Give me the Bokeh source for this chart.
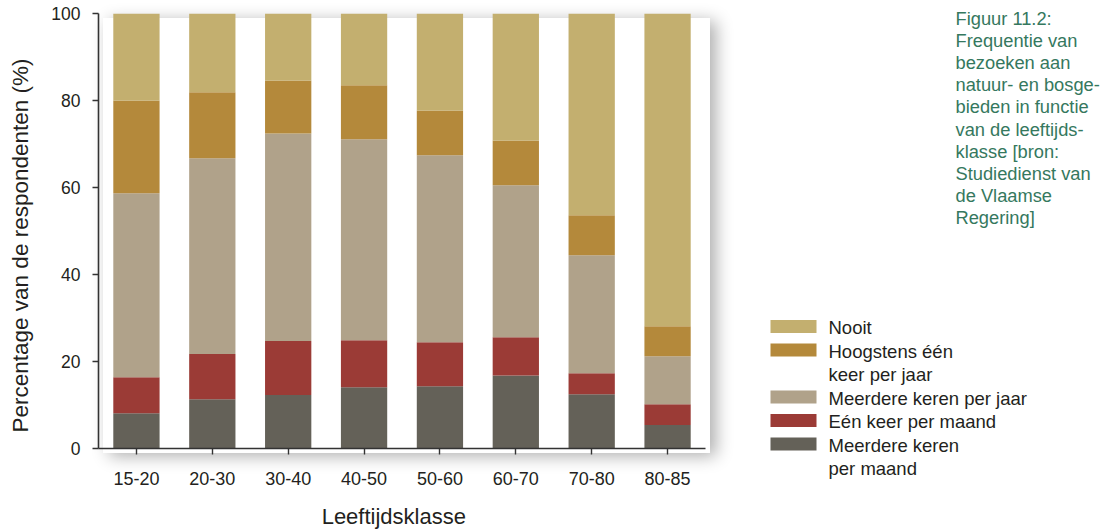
import math
from bokeh.plotting import figure
from bokeh.models import FactorRange, Range1d, FixedTicker, Div
from bokeh.core.properties import value
from bokeh.embed import file_html
from bokeh.resources import INLINE

# ---------------- data ----------------
categories = ["15-20", "20-30", "30-40", "40-50", "50-60", "60-70", "70-80", "80-85"]
meerdere_per_maand = [8.1, 11.3, 12.3, 14.1, 14.3, 16.8, 12.5, 5.4]
een_per_maand = [8.3, 10.4, 12.4, 10.8, 10.1, 8.8, 4.8, 4.8]
meerdere_per_jaar = [42.3, 45.0, 47.7, 46.2, 43.0, 34.9, 27.1, 11.0]
hoogstens_per_jaar = [21.3, 15.2, 12.2, 12.4, 10.3, 10.3, 9.2, 6.9]
nooit = [20.0, 18.1, 15.4, 16.5, 22.3, 29.2, 46.4, 71.9]

series_keys = ["mm", "em", "mj", "hj", "n"]
series_colors = ["#646158", "#9b3b36", "#b0a28a", "#b4893b", "#c3af6f"]
legend_lines = [
    ["Meerdere keren", "per maand"],
    ["Eén keer per maand"],
    ["Meerdere keren per jaar"],
    ["Hoogstens één", "keer per jaar"],
    ["Nooit"],
]
y_ticks = [0, 20, 40, 60, 80, 100]
y_label = "Percentage van de respondenten (%)"
x_label = "Leeftijdsklasse"
caption_lines = [
    "Figuur 11.2:",
    "Frequentie van",
    "bezoeken aan",
    "natuur- en bosge-",
    "bieden in functie",
    "van de leeftijds-",
    "klasse [bron:",
    "Studiedienst van",
    "de Vlaamse",
    "Regering]",
]

FONT = "Liberation Sans"
TXT = "#231f20"
AX = "#333333"

# ---------------- main chart ----------------
W_TOTAL, H = 1113, 531
W1 = 750
BL, BT, FRAME_R, FRAME_B = 98, 13, 705, 448
BR = W1 - FRAME_R
BB = H - FRAME_B
frame_w = FRAME_R - BL
frame_h = FRAME_B - BT

p = figure(
    width=W1, height=H,
    x_range=FactorRange(factors=categories, range_padding=0),
    y_range=Range1d(0, 100),
    toolbar_location=None, output_backend="svg",
    min_border_left=BL, min_border_right=BR, min_border_top=BT, min_border_bottom=BB,
    outline_line_color=None, background_fill_color=None, border_fill_color=None,
)

src = dict(cat=categories, mm=meerdere_per_maand, em=een_per_maand,
           mj=meerdere_per_jaar, hj=hoogstens_per_jaar, n=nooit)
p.vbar_stack(series_keys, x="cat", width=0.61, color=series_colors, source=src, line_width=0)

p.xgrid.visible = False
p.ygrid.visible = False

p.yaxis.ticker = FixedTicker(ticks=y_ticks)
p.yaxis.minor_tick_line_color = None
for ax in (p.xaxis[0], p.yaxis[0]):
    ax.axis_line_color = AX
    ax.axis_line_width = 1.6
    ax.major_tick_line_color = AX
    ax.major_tick_line_width = 1.4
    ax.major_tick_in = 0
    ax.major_tick_out = 6
    ax.major_label_text_font = FONT
    ax.major_label_text_color = TXT

p.yaxis.major_label_text_font_size = "17.5px"
p.yaxis.major_label_standoff = 12
p.xaxis.major_label_text_font_size = "18px"
p.xaxis.major_label_standoff = 17

# drop shadow behind the plotting area (a DOM element under the transparent canvas)
shadow = Div(text="", styles={
    "position": "absolute", "left": f"{BL}px", "top": f"{BT}px",
    "width": f"{frame_w}px", "height": f"{frame_h}px",
    "background-color": "white", "z-index": "-1", "pointer-events": "none",
    "box-shadow": "6px 3px 16px rgba(0,0,0,0.32)",
})

# ---------------- overlay: axis titles, legend, caption (page pixel coordinates) ----------------
r = figure(
    width=W_TOTAL, height=H,
    x_range=Range1d(0, W_TOTAL), y_range=Range1d(H, 0),
    toolbar_location=None, output_backend="svg",
    x_axis_type=None, y_axis_type=None, min_border=0,
    outline_line_color=None, background_fill_color=None, border_fill_color=None,
    styles={"position": "absolute", "left": "0px", "top": "0px", "pointer-events": "none"},
)
r.xgrid.visible = False
r.ygrid.visible = False

# axis titles
r.text(x=[19.5], y=[245], text=[y_label], angle=math.pi / 2,
       text_font=value(FONT), text_font_size="22.5px", text_color=TXT,
       text_align="center", text_baseline="middle")
r.text(x=[393.3], y=[515.6], text=[x_label],
       text_font=value(FONT), text_font_size="22px", text_color=TXT,
       text_align="center", text_baseline="middle")

# legend
line_y0 = 327.0
line_step = 23.5
sw_x, sw_w, sw_h = 793, 46, 13
txt_x = 828
sw_xs, sw_ys, sw_cols = [], [], []
tx, ty, tt = [], [], []
row_i = 0
for lines, col in zip(legend_lines[::-1], series_colors[::-1]):
    sw_xs.append(sw_x)
    sw_ys.append(line_y0 + row_i * line_step - 1)
    sw_cols.append(col)
    for ln in lines:
        tx.append(txt_x)
        ty.append(line_y0 + row_i * line_step)
        tt.append(ln)
        row_i += 1

r.rect(x=sw_xs, y=sw_ys, width=sw_w, height=sw_h, fill_color=sw_cols, line_alpha=0)
r.text(x=tx, y=ty, text=tt, text_font=value(FONT), text_font_size="18.5px",
       text_color=TXT, text_baseline="middle", text_align="left")

# caption
cap_x = 955
cap_y0 = 18.0
cap_step = 22.1
r.text(x=[cap_x] * len(caption_lines),
       y=[cap_y0 + i * cap_step for i in range(len(caption_lines))],
       text=caption_lines, text_font=value(FONT), text_font_size="18.3px",
       text_color="#35785e", text_baseline="middle", text_align="left")

open("out.html", "w").write(file_html([p, r, shadow], INLINE))
